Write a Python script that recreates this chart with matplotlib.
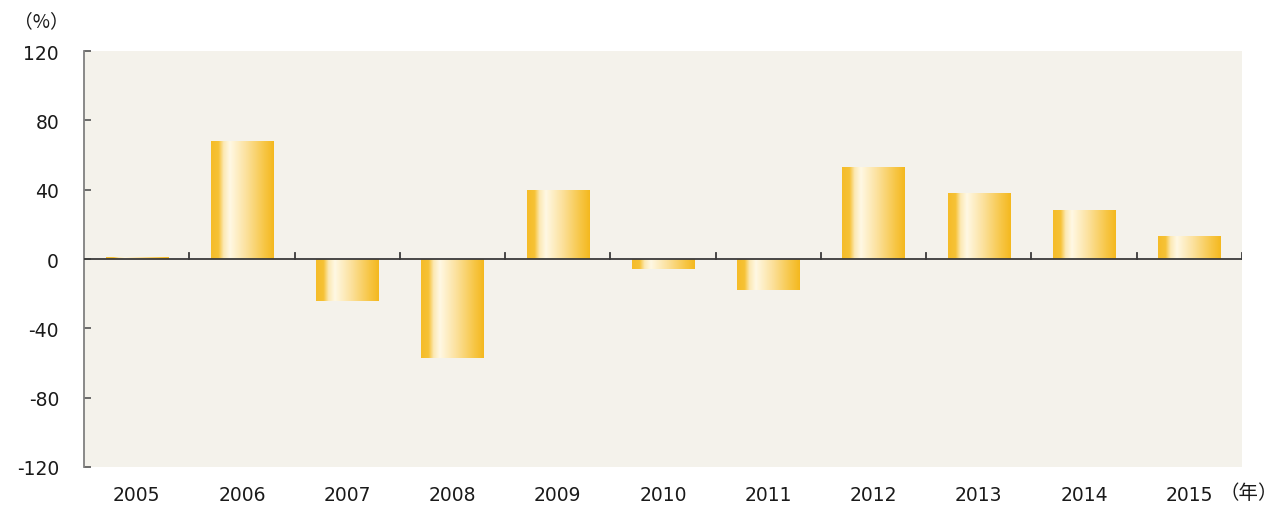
import matplotlib
matplotlib.use("Agg")
import matplotlib.pyplot as plt
import numpy as np
from matplotlib.colors import LinearSegmentedColormap

plt.rcParams['font.family'] = ['DejaVu Sans', 'Noto Sans CJK JP']

years = ['2005', '2006', '2007', '2008', '2009', '2010', '2011', '2012', '2013', '2014', '2015']
values = [1, 68, -24, -57, 40, -6, -18, 53, 38, 28, 13]
yticks = [-120, -80, -40, 0, 40, 80, 120]

fig = plt.figure(figsize=(12.85, 5.06), dpi=100)
ax = fig.add_axes([0.0654, 0.0751, 0.9011, 0.8221])
ax.set_facecolor('#F4F2EB')

cmap = LinearSegmentedColormap.from_list('barg', [
    (0.0, '#F5BC28'), (0.12, '#F6C236'), (0.20, '#FCE9B4'),
    (0.30, '#FFF8E4'), (0.55, '#FCE2A0'), (0.85, '#F7C645'), (1.0, '#F4B81E')])
grad = np.linspace(0, 1, 256).reshape(1, -1)

x = np.arange(len(years))
bars = ax.bar(x, values, width=0.59, color='none', edgecolor='none', zorder=2)
for b in bars:
    x0 = b.get_x(); w = b.get_width(); h = b.get_height()
    y0, y1 = (0, h) if h >= 0 else (h, 0)
    im = ax.imshow(grad, cmap=cmap, aspect='auto', extent=(x0, x0 + w, y0, y1),
                   interpolation='bilinear', zorder=2)
    im.set_clip_path(b)

ax.set_xlim(-0.5, len(years) - 0.5)
ax.set_ylim(-120, 120)

# zero line with category-boundary ticks
ax.axhline(0, color='#3a3a3a', lw=1.3, zorder=3)
for k in range(1, len(years) + 1):
    ax.plot([k - 0.5, k - 0.5], [0, 3.5], color='#3a3a3a', lw=1.3, zorder=3)

for s in ['top', 'right', 'bottom']:
    ax.spines[s].set_visible(False)
ax.spines['left'].set_color('#808080')
ax.spines['left'].set_linewidth(1.3)

ax.set_yticks(yticks)
ax.set_yticklabels([str(v) for v in yticks])
ax.tick_params(axis='y', direction='in', length=5, width=1.3, color='#606060',
               labelsize=13.5, pad=18, labelcolor='#1a1a1a')
ax.set_xticks(x)
ax.set_xticklabels(years)
ax.tick_params(axis='x', length=0, labelsize=13.5, pad=13, labelcolor='#1a1a1a')

fig.text(0.032, 0.957, '（%）', fontsize=13.5, family=['Noto Sans CJK JP', 'DejaVu Sans'],
         ha='center', va='center', color='#1a1a1a')
fig.text(0.972, 0.025, '（年）', fontsize=14, family=['Noto Sans CJK JP', 'DejaVu Sans'],
         ha='center', va='center', color='#1a1a1a')

fig.savefig('out.png', dpi=100)
